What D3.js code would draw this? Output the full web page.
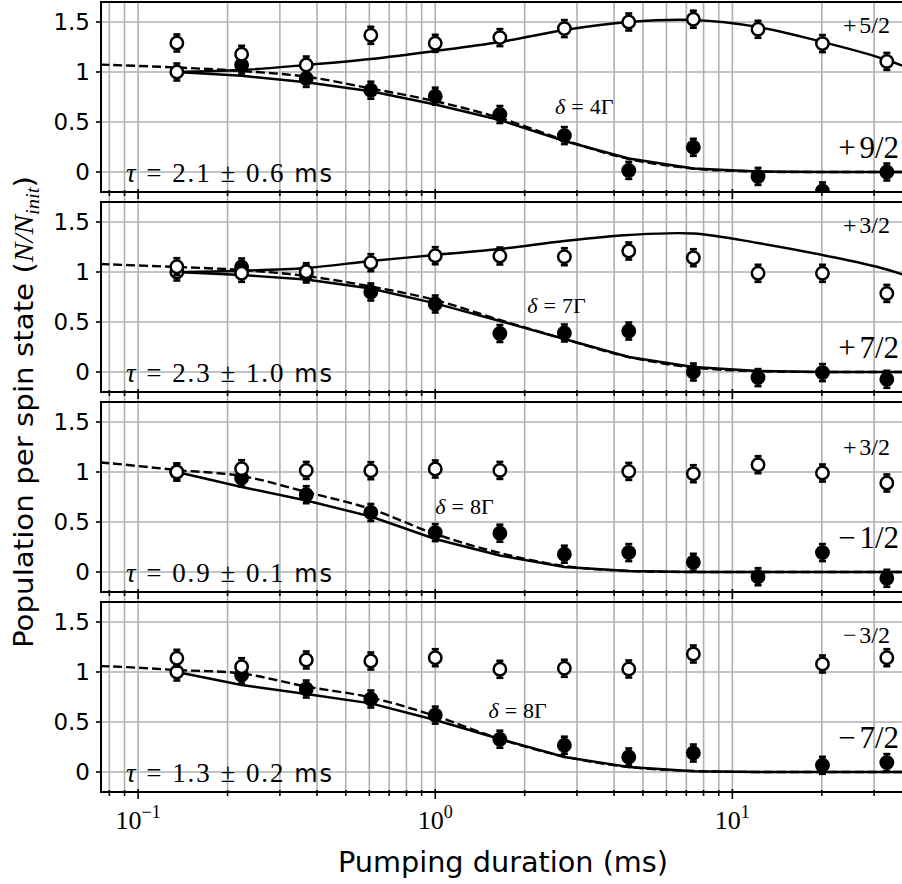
<!DOCTYPE html>
<html>
<head>
<meta charset="utf-8">
<script src="https://cdn.jsdelivr.net/npm/d3@7"></script>
<style>
  body { margin: 0; background: #fff; }
  svg { display: block; }
</style>
</head>
<body>
<script>
var w = 902;
var h = 884;

// pumping durations (ms) of the measured points
var tData = [0.135, 0.223, 0.368, 0.607, 1.0, 1.65, 2.72, 4.48, 7.39, 12.2, 20.1, 33.1];
// time grids of the model curves
var tFit = [0.135, 0.223, 0.368, 0.607, 1.0, 1.65, 2.72, 4.48, 7.39, 12.2, 20.1, 33.1, 54.6];
var tDash = [0.0498, 0.082, 0.135, 0.223, 0.368, 0.607, 1.0, 1.65, 2.72, 4.48, 7.39, 12.2, 20.1, 33.1, 54.6];

var yTicks = [0, 0.5, 1, 1.5];
var yTickLabels = ["0", "0.5", "1", "1.5"];
var xMajor = [0.1, 1, 10];
var xMajorExp = ["\u22121", "0", "1"];

// labels per panel (sign, fraction)
var lowSign = ["+", "+", "\u2212", "\u2212"];
var lowFrac = ["9/2", "7/2", "1/2", "7/2"];
var highSign = ["+", "+", "+", "\u2212"];
var highFrac = ["5/2", "3/2", "3/2", "3/2"];
var detuning = ["4\u0393", "7\u0393", "8\u0393", "8\u0393"];
var tauText = ["2.1 \u00b1 0.6", "2.3 \u00b1 1.0", "0.9 \u00b1 0.1", "1.3 \u00b1 0.2"];

// filled points: population of the pumped-out state
var low1 = [1.0, 1.07, 0.936, 0.818, 0.758, 0.575, 0.364, 0.016, 0.247, -0.044, -0.19, 0.0];
var low2 = [1.0, 1.05, 0.98, 0.80, 0.68, 0.385, 0.39, 0.41, 0.0, -0.056, -0.006, -0.073];
var low3 = [1.0, 0.94, 0.773, 0.595, 0.394, 0.388, 0.178, 0.194, 0.097, -0.047, 0.194, -0.063];
var low4 = [1.0, 0.97, 0.83, 0.73, 0.569, 0.328, 0.268, 0.15, 0.19, null, 0.067, 0.094];

// open points: population of the other state
var high1 = [1.29, 1.177, 1.07, 1.367, 1.287, 1.344, 1.434, 1.50, 1.528, 1.427, 1.284, 1.106];
var high2 = [1.053, 0.987, 1.003, 1.093, 1.163, 1.16, 1.153, 1.21, 1.143, 0.987, 0.987, 0.786];
var high3 = [1.0, 1.033, 1.016, 1.013, 1.03, 1.016, null, 1.006, 0.983, 1.073, 0.99, 0.89];
var high4 = [1.137, 1.053, 1.12, 1.11, 1.143, 1.027, 1.037, 1.03, 1.18, null, 1.08, 1.143];

// model curves (solid) on tFit
var fitLow1 = [1.0, 0.962, 0.897, 0.808, 0.675, 0.52, 0.31, 0.135, 0.035, 0.005, 0, 0, 0];
var fitLow2 = [1.0, 0.97, 0.925, 0.835, 0.686, 0.51, 0.33, 0.15, 0.05, 0.01, 0, 0, 0];
var fitLow3 = [1.0, 0.85, 0.715, 0.555, 0.33, 0.165, 0.05, 0.01, 0, 0, 0, 0, 0];
var fitLow4 = [1.0, 0.87, 0.78, 0.686, 0.52, 0.33, 0.15, 0.05, 0.008, 0, 0, 0, 0];
var fitHigh1 = [1.0, 1.02, 1.07, 1.13, 1.21, 1.30, 1.42, 1.50, 1.52, 1.45, 1.30, 1.12, 0.86];
var fitHigh2 = [1.0, 1.013, 1.04, 1.11, 1.17, 1.23, 1.31, 1.37, 1.385, 1.29, 1.17, 1.025, 0.80];

// exponential fits (dashed) on tDash
var dashLow1 = [1.09, 1.07, 1.045, 1.01, 0.953, 0.835, 0.708, 0.54, 0.32, 0.13, 0.035, 0.004, 0, 0, 0];
var dashLow2 = [1.10, 1.075, 1.05, 1.02, 0.96, 0.855, 0.72, 0.52, 0.33, 0.15, 0.045, 0.008, 0, 0, 0];
var dashLow3 = [1.14, 1.085, 1.02, 0.96, 0.80, 0.63, 0.38, 0.19, 0.06, 0.01, 0, 0, 0, 0, 0];
var dashLow4 = [1.07, 1.055, 1.02, 0.985, 0.855, 0.745, 0.56, 0.33, 0.155, 0.05, 0.01, 0, 0, 0, 0];

var errBar = 0.085;

var panels = [
    {low: low1, high: high1, fit: fitLow1, dash: dashLow1, hump: fitHigh1},
    {low: low2, high: high2, fit: fitLow2, dash: dashLow2, hump: fitHigh2},
    {low: low3, high: high3, fit: fitLow3, dash: dashLow3, hump: null},
    {low: low4, high: high4, fit: fitLow4, dash: dashLow4, hump: null}
];

// label placement (t, value) inside each panel
var deltaPos = [[2.53, 0.66], [2.04, 0.67], [1.0, 0.66], [1.51, 0.62]];
var highPos = [1.47, 1.47, 1.25, 1.37];
var lowPos = [0.25, 0.25, 0.35, 0.35];

var serif = "'Liberation Serif', 'Times New Roman', serif";
var sans = "'DejaVu Sans', sans-serif";

var left = 101, right = 916, panelH = 190, step = 200, top0 = 2;

var svg = d3.select("body").append("svg").attr("width", w).attr("height", h);

var x = d3.scaleLog().domain([0.075, 41.5]).range([left, right]);
var xAll = x.ticks();

var grid = svg.append("g");
// vertical grid runs through all panels and the gaps
grid.selectAll("line.v")
    .data(xAll)
    .enter().append("line")
    .attr("x1", d => x(d)).attr("x2", d => x(d))
    .attr("y1", top0).attr("y2", top0 + 3 * step + panelH)
    .attr("stroke", "#b0b0b0").attr("stroke-width", 1.6);

function stateLabel(g, xEnd, yPos, sign, frac, size) {
    var t = g.append("text")
        .attr("x", xEnd).attr("y", yPos).attr("dy", "0.35em")
        .attr("text-anchor", "end")
        .style("font-family", serif).style("font-size", size + "px");
    t.append("tspan").text(sign);
    t.append("tspan").attr("dx", size * 0.12).text(frac);
}

panels.forEach(function (p, i) {
    var top = top0 + i * step;
    var y = d3.scaleLinear().domain([-0.2, 1.7]).range([top + panelH, top]);

    svg.append("clipPath").attr("id", "clip" + i)
        .append("rect").attr("x", left).attr("y", top)
        .attr("width", right - left).attr("height", panelH);

    var g = svg.append("g");

    g.selectAll("line.h")
        .data(yTicks)
        .enter().append("line")
        .attr("x1", left).attr("x2", right)
        .attr("y1", d => y(d)).attr("y2", d => y(d))
        .attr("stroke", "#b0b0b0").attr("stroke-width", 1.6);

    var plot = g.append("g").attr("clip-path", "url(#clip" + i + ")");

    var lineLin = d3.line().x(d => x(d[0])).y(d => y(d[1]));
    var lineSmooth = d3.line().curve(d3.curveCatmullRom).x(d => x(d[0])).y(d => y(d[1]));

    plot.append("path")
        .attr("d", lineSmooth(d3.zip(tDash, p.dash)))
        .attr("fill", "none").attr("stroke", "#000")
        .attr("stroke-width", 2.4).attr("stroke-dasharray", "9,4");

    plot.append("path")
        .attr("d", lineLin(d3.zip(tFit, p.fit)))
        .attr("fill", "none").attr("stroke", "#000").attr("stroke-width", 2.4);

    if (p.hump) {
        plot.append("path")
            .attr("d", lineSmooth(d3.zip(tFit, p.hump)))
            .attr("fill", "none").attr("stroke", "#000").attr("stroke-width", 2.4);
    }

    function drawPoints(vals, filled) {
        var pts = d3.zip(tData, vals).map(function (d, j) { return {t: d[0], v: d[1], j: j}; })
            .filter(d => d.v != null);
        var pg = plot.append("g");
        pg.selectAll("line.eb").data(pts).enter().append("line")
            .attr("x1", d => x(d.t)).attr("x2", d => x(d.t))
            .attr("y1", d => y(d.v - errBar)).attr("y2", d => y(d.v + errBar))
            .attr("stroke", "#000").attr("stroke-width", 2.4);
        [-1, 1].forEach(function (s) {
            pg.selectAll("line.cap" + s).data(pts).enter().append("line")
                .attr("x1", d => x(d.t) - 3.5).attr("x2", d => x(d.t) + 3.5)
                .attr("y1", d => y(d.v + s * errBar)).attr("y2", d => y(d.v + s * errBar))
                .attr("stroke", "#000").attr("stroke-width", 2.6);
        });
        pg.selectAll("circle").data(pts).enter().append("circle")
            .attr("cx", d => x(d.t)).attr("cy", d => y(d.v)).attr("r", 6.2)
            .attr("fill", d => (filled && d.j > 0) ? "#000" : "#fff")
            .attr("stroke", "#000").attr("stroke-width", 2.5);
    }
    drawPoints(p.low, true);
    drawPoints(p.high, false);

    // spines
    g.append("line").attr("x1", left).attr("x2", right).attr("y1", top).attr("y2", top)
        .attr("stroke", "#000").attr("stroke-width", 2);
    g.append("line").attr("x1", left).attr("x2", right).attr("y1", top + panelH).attr("y2", top + panelH)
        .attr("stroke", "#000").attr("stroke-width", 2);
    g.append("line").attr("x1", left).attr("x2", left).attr("y1", top - 1).attr("y2", top + panelH + 1)
        .attr("stroke", "#000").attr("stroke-width", 2);

    // x ticks on the bottom spine
    g.selectAll("line.xt").data(xAll).enter().append("line")
        .attr("x1", d => x(d)).attr("x2", d => x(d))
        .attr("y1", d => top + panelH - (xMajor.indexOf(d) >= 0 ? 3 : 2))
        .attr("y2", d => top + panelH + (xMajor.indexOf(d) >= 0 ? 7 : 4))
        .attr("stroke", "#000").attr("stroke-width", 1.6);

    // y ticks and labels
    g.selectAll("line.yt").data(yTicks).enter().append("line")
        .attr("x1", left - 5).attr("x2", left)
        .attr("y1", d => y(d)).attr("y2", d => y(d))
        .attr("stroke", "#000").attr("stroke-width", 1.6);
    g.selectAll("text.yl").data(yTicks).enter().append("text")
        .attr("x", 90).attr("y", d => y(d))
        .attr("dy", "0.36em")
        .attr("text-anchor", "end")
        .style("font-family", sans).style("font-size", "23px")
        .text((d, k) => yTickLabels[k]);

    // annotations
    var tau = g.append("text")
        .attr("x", 126).attr("y", y(0)).attr("dy", "0.36em")
        .attr("textLength", 206).attr("lengthAdjust", "spacing")
        .style("font-family", serif).style("font-size", "27px");
    tau.append("tspan").style("font-style", "italic").text("\u03c4");
    tau.append("tspan").text(" = " + tauText[i] + " ");
    tau.append("tspan").style("font-family", sans).style("font-size", "24px").text("ms");

    var dl = g.append("text")
        .attr("x", x(deltaPos[i][0])).attr("y", y(deltaPos[i][1])).attr("dy", "0.35em")
        .style("font-family", serif).style("font-size", "22px");
    dl.append("tspan").style("font-style", "italic").text("\u03b4");
    dl.append("tspan").attr("dx", 6).text("=");
    dl.append("tspan").attr("dx", 6).text(detuning[i]);

    stateLabel(g, 890, y(highPos[i]), highSign[i], highFrac[i], 24);
    stateLabel(g, 899, y(lowPos[i]), lowSign[i], lowFrac[i], 31);
});

// x tick labels on the bottom panel
var xl = svg.append("g").selectAll("text").data(xMajor).enter().append("text")
    .attr("x", d => x(d)).attr("y", 829)
    .attr("text-anchor", "middle")
    .style("font-family", serif).style("font-size", "26px");
xl.append("tspan").text("10");
xl.append("tspan").attr("dy", -11).style("font-size", "18px").text((d, k) => xMajorExp[k]);

svg.append("text")
    .attr("x", 503).attr("y", 872)
    .attr("text-anchor", "middle")
    .attr("textLength", 330).attr("lengthAdjust", "spacingAndGlyphs")
    .style("font-family", sans).style("font-size", "29px")
    .text("Pumping duration (ms)");

var yl = svg.append("text")
    .attr("transform", "translate(33," + 412 + ") rotate(-90)")
    .attr("text-anchor", "middle")
    .attr("textLength", 472).attr("lengthAdjust", "spacingAndGlyphs")
    .style("font-family", sans).style("font-size", "27px");
yl.append("tspan").text("Population per spin state (");
yl.append("tspan").style("font-family", serif).style("font-style", "italic").text("N/N");
yl.append("tspan").attr("dy", 6).style("font-family", serif).style("font-style", "italic").style("font-size", "19px").text("init");
yl.append("tspan").attr("dy", -6).text(")");
</script>
</body>
</html>
